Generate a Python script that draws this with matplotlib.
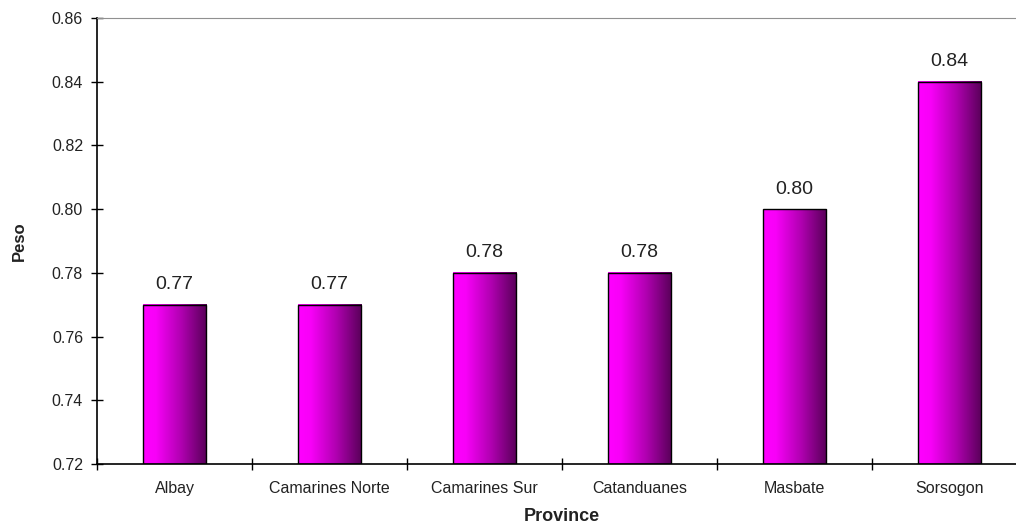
import matplotlib
matplotlib.use("Agg")
import matplotlib.pyplot as plt
import numpy as np
from matplotlib.colors import LinearSegmentedColormap

provinces = ["Albay", "Camarines Norte", "Camarines Sur", "Catanduanes", "Masbate", "Sorsogon"]
values = [0.77, 0.77, 0.78, 0.78, 0.80, 0.84]
labels = ["0.77", "0.77", "0.78", "0.78", "0.80", "0.84"]

plt.rcParams['font.family'] = ['Liberation Sans', 'DejaVu Sans']
txt = '#222222'

W, H = 1016, 525
fig = plt.figure(figsize=(W/100, H/100), dpi=100)
ax = fig.add_axes([97/W, (H-464)/H, (1027-97)/W, (464-18)/H])

cmap = LinearSegmentedColormap.from_list("mag", [(0, "#FF00FF"), (0.2, "#F800F8"), (0.6, "#B000B0"), (1.0, "#580058")])
grad = np.linspace(0, 1, 256).reshape(1, -1)

ymin, ymax = 0.72, 0.86
bw = 0.41
x = np.arange(len(provinces))
bars = ax.bar(x, [v - ymin for v in values], bottom=ymin, width=bw, facecolor='none',
              edgecolor='black', linewidth=1.0, zorder=3)
for b, lab in zip(bars, labels):
    x0, y0 = b.get_x(), b.get_y()
    w, h = b.get_width(), b.get_height()
    ax.imshow(grad, cmap=cmap, extent=(x0, x0 + w, y0, y0 + h), aspect='auto', zorder=2,
              interpolation='bilinear')
    ax.text(x0 + w/2, y0 + h + 0.0036, lab, ha='center', va='bottom', fontsize=14, color=txt)

ax.set_xlim(-0.5, len(provinces) - 0.5)
ax.set_ylim(ymin, ymax)
yt = np.arange(0.72, 0.861, 0.02)
ax.set_yticks(yt)
ax.set_yticklabels([f"{t:.2f}" for t in yt], fontsize=11.5, color=txt)
ax.set_xticks(x)
ax.set_xticklabels(provinces, fontsize=11.5, color=txt)
ax.tick_params(axis='x', length=0, pad=12)
ax.set_xticks(np.arange(-0.5, len(provinces)), minor=True)
ax.tick_params(axis='x', which='minor', direction='inout', length=9, width=1)
ax.tick_params(axis='y', direction='inout', length=8, width=1, pad=6)

ax.spines['right'].set_visible(False)
ax.spines['top'].set_color('#909090')
ax.spines['left'].set_linewidth(1.2)
ax.spines['bottom'].set_linewidth(1.2)

ax.set_ylabel("Peso", fontsize=12, fontweight='bold', labelpad=18, color=txt)
ax.set_xlabel("Province", fontsize=13, fontweight='bold', labelpad=9, color=txt)

fig.savefig("out.png", dpi=100)
